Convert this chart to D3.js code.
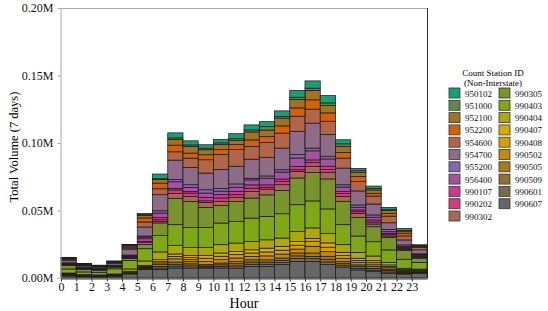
<!DOCTYPE html>
<html><head><meta charset="utf-8">
<script src="https://cdn.jsdelivr.net/npm/d3@7"></script>
<style>body{margin:0;background:#fff}svg{display:block}</style>
</head><body><svg id="c" width="548" height="311"></svg>
<script>
// Hours (x categories / tick labels)
const hours = [0,1,2,3,4,5,6,7,8,9,10,11,12,13,14,15,16,17,18,19,20,21,22,23];
// Count stations (legend order; first is on top of each stack)
const stations = ["950102","951000","952100","952200","954600","954700","955200","956400","990107","990202","990302","990305","990403","990404","990407","990408","990502","990505","990509","990601","990607"];
// Volumes in thousands of vehicles (7 days), one value per hour
const v950102 = [0.2,0.15,0.12,0.15,0.3,0.7,3.5,3.7,3.0,2.5,2.5,3.7,3.7,3.7,4.2,4.9,5.4,5.4,3.0,1.7,1.7,1.5,1.5,0.3];
const v951000 = [0.2,0.15,0.12,0.15,0.3,0.8,0.6,1.2,1.2,1.2,1.2,1.2,1.5,2.5,1.2,1.7,1.7,2.0,2.0,1.2,1.2,0.8,0.5,0.3];
const v952100 = [0.6,0.4,0.35,0.4,1.1,1.7,2.6,4.2,4.9,3.7,3.7,3.2,5.9,4.9,5.7,6.2,6.9,5.4,4.4,3.2,2.5,2.2,1.5,0.6];
const v952200 = [0.6,0.4,0.35,0.4,0.8,3.0,4.2,4.9,3.7,3.7,3.7,3.7,4.9,4.4,5.4,6.2,6.9,6.2,4.2,3.7,2.0,2.0,2.0,0.8];
const v954600 = [0.9,0.6,0.5,0.6,0.9,3.7,4.4,6.2,6.9,9.9,11.1,12.3,9.4,10.9,11.1,11.1,10.4,9.9,7.4,6.9,5.9,4.9,3.0,1.7];
const v954700 = [1.6,1.2,1.0,1.4,4.4,6.7,11.9,14.3,12.8,12.3,14.1,13.1,14.1,13.8,16.0,17.3,18.5,16.0,12.3,10.4,8.1,4.9,3.7,3.0];
const v955200 = [0.3,0.2,0.2,0.2,0.4,0.8,1.7,1.7,2.0,2.5,2.0,2.5,1.2,1.7,1.7,2.5,2.0,2.0,1.7,1.7,1.7,1.7,1.0,0.6];
const v956400 = [0.4,0.3,0.25,0.3,0.6,1.2,3.2,4.9,3.0,3.2,2.5,3.0,3.7,4.9,5.2,6.2,6.7,5.4,3.2,2.0,2.0,1.2,0.8,0.7];
const v990107 = [0.4,0.3,0.25,0.3,0.6,2.0,1.7,1.2,1.2,2.5,2.5,2.5,2.5,1.8,1.7,2.5,2.0,2.5,1.7,1.3,1.5,1.0,0.7,0.6];
const v990202 = [0.4,0.3,0.25,0.3,0.4,0.5,1.2,2.5,2.5,1.2,2.5,2.0,2.4,1.4,2.5,1.2,3.0,2.0,2.0,1.2,1.5,1.0,0.7,0.6];
const v990302 = [0.5,0.35,0.3,0.4,0.6,1.7,1.2,3.7,3.7,3.7,3.0,3.0,4.9,4.2,4.2,4.9,4.4,4.9,3.7,3.0,2.0,1.2,1.0,0.7];
const v990305 = [2.5,1.8,1.6,1.2,1.5,3.2,9.4,19.5,19.3,14.8,13.1,14.8,14.8,16.0,17.3,19.8,21.0,22.2,17.3,13.8,11.1,9.1,6.4,3.2];
const v990403 = [3.0,2.0,1.9,3.8,6.2,9.1,12.1,15.3,14.8,14.8,16.0,16.0,17.3,17.3,18.0,19.8,20.0,18.3,14.8,12.3,10.6,9.4,6.7,4.9];
const v990404 = [0.6,0.4,0.35,0.5,1.7,3.2,5.7,6.4,5.9,5.9,6.2,6.2,6.2,6.2,6.2,7.4,7.9,6.9,5.7,4.2,3.5,1.7,0.9,0.6];
const v990407 = [0.2,0.15,0.12,0.2,0.3,0.6,1.2,1.8,1.5,2.2,2.4,2.4,2.4,2.8,2.8,2.8,2.0,3.2,2.2,1.6,1.5,1.1,0.7,0.5];
const v990408 = [0.2,0.15,0.12,0.2,0.3,0.6,1.2,1.8,1.4,2.3,2.5,2.5,2.5,2.9,2.9,2.9,3.7,3.3,2.2,1.6,1.5,1.0,0.7,0.5];
const v990502 = [0.3,0.2,0.2,0.25,0.4,0.6,1.3,2.4,1.5,2.4,2.5,2.5,2.5,2.9,2.9,2.9,5.0,3.4,2.3,1.7,1.4,1.1,0.7,0.5];
const v990505 = [0.3,0.2,0.2,0.25,0.4,0.5,1.3,1.6,1.8,0.9,1.3,1.7,1.7,1.7,1.7,2.1,2.5,2.2,1.4,1.3,1.3,1.0,0.5,0.4];
const v990509 = [0.3,0.2,0.2,0.25,0.3,0.4,1.2,1.4,1.5,0.8,1.2,1.6,1.6,1.6,1.6,2.0,1.7,2.0,1.4,1.2,1.2,1.0,0.4,0.3];
const v990601 = [0.3,0.2,0.2,0.25,0.3,0.3,1.2,1.4,1.6,0.8,1.2,1.6,1.6,1.6,1.6,2.1,2.0,2.0,1.4,1.2,1.2,1.0,0.3,0.3];
const v990607 = [1.5,1.0,0.9,1.1,3.0,6.4,6.2,7.4,7.4,7.4,7.4,7.4,8.6,8.6,9.9,12.3,12.3,9.9,8.1,6.0,4.7,3.5,3.0,3.5];
const seriesValues = [v950102,v951000,v952100,v952200,v954600,v954700,v955200,v956400,v990107,v990202,v990302,v990305,v990403,v990404,v990407,v990408,v990502,v990505,v990509,v990601,v990607];
// Y tick values (thousands)
const yTicks = [0,50,100,150,200];

const svg = d3.select("#c");
const serif = "'Liberation Serif','Times New Roman',serif";
const x = d3.scaleLinear().domain([0,24]).range([61,427]);
const y = d3.scaleLinear().domain([0,200]).range([278,8]);
const color = d3.scaleOrdinal().domain(stations)
  .range(d3.quantize(d3.piecewise(d3.interpolateRgb, d3.schemeDark2), stations.length));

const rows = hours.map((h,i)=>{const o={hour:h}; stations.forEach((s,j)=>o[s]=seriesValues[j][i]); return o;});
const stackKeys = stations.slice().reverse();
const stacked = d3.stack().keys(stackKeys)(rows);

// frame
svg.append("line").attr("x1",60.5).attr("x2",427.5).attr("y1",8.5).attr("y2",8.5).attr("stroke","#a8a8a8").attr("stroke-width",1);
svg.append("line").attr("x1",427.5).attr("x2",427.5).attr("y1",8).attr("y2",278.5).attr("stroke","#333").attr("stroke-width",1);

const g = svg.append("g");
stacked.forEach(layer=>{
  g.append("g").attr("fill",color(layer.key))
   .selectAll("rect").data(layer).join("rect")
   .attr("x",d=>x(d.data.hour)).attr("width",d=>x(d.data.hour+1)-x(d.data.hour))
   .attr("y",d=>y(d[1])).attr("height",d=>y(d[0])-y(d[1]))
   .attr("stroke","#1a1a1a").attr("stroke-width",0.75);
});

// axes
const yAxis = svg.append("g").attr("transform","translate(60.5,0)")
  .call(d3.axisLeft(y).tickValues(yTicks).tickSize(3).tickSizeOuter(0).tickFormat(d=>(d/1000).toFixed(2)+"M"));
yAxis.select(".domain").attr("stroke","#a8a8a8");
yAxis.selectAll(".tick line").attr("stroke","#a8a8a8");
yAxis.selectAll("text").attr("font-family",serif).attr("font-size",12).attr("fill","#111").attr("dx",-1);

const xAxis = svg.append("g").attr("transform","translate(0,278.5)")
  .call(d3.axisBottom(x).tickValues(hours).tickSize(3).tickSizeOuter(0).tickFormat(d=>d));
xAxis.select(".domain").attr("stroke","#333");
xAxis.selectAll(".tick line").attr("stroke","#333");
xAxis.selectAll("text").attr("font-family",serif).attr("font-size",12).attr("fill","#111").attr("dy","0.5em");

svg.append("text").attr("x",244).attr("y",308).attr("text-anchor","middle")
  .attr("font-family",serif).attr("font-size",14).text("Hour");
svg.append("text").attr("transform","translate(18,147) rotate(-90)").attr("text-anchor","middle")
  .attr("font-family",serif).attr("font-size",12.5).text("Total Volume (7 days)");

// legend
const lg = svg.append("g");
lg.append("text").attr("x",493).attr("y",76).attr("text-anchor","middle").attr("font-family",serif).attr("font-size",9).text("Count Station ID");
lg.append("text").attr("x",493).attr("y",85.5).attr("text-anchor","middle").attr("font-family",serif).attr("font-size",9).text("(Non-Interstate)");
stations.forEach((s,i)=>{
  const col = i<11?0:1, row = i<11?i:i-11;
  const gx = 449 + col*50, gy = 88 + row*12.3;
  lg.append("rect").attr("x",gx).attr("y",gy).attr("width",11).attr("height",10)
    .attr("fill",color(s)).attr("stroke","#333").attr("stroke-width",0.8);
  lg.append("text").attr("x",gx+16).attr("y",gy+8.5).attr("font-family",serif).attr("font-size",9).attr("fill","#111").text(s);
});
</script></body></html>
